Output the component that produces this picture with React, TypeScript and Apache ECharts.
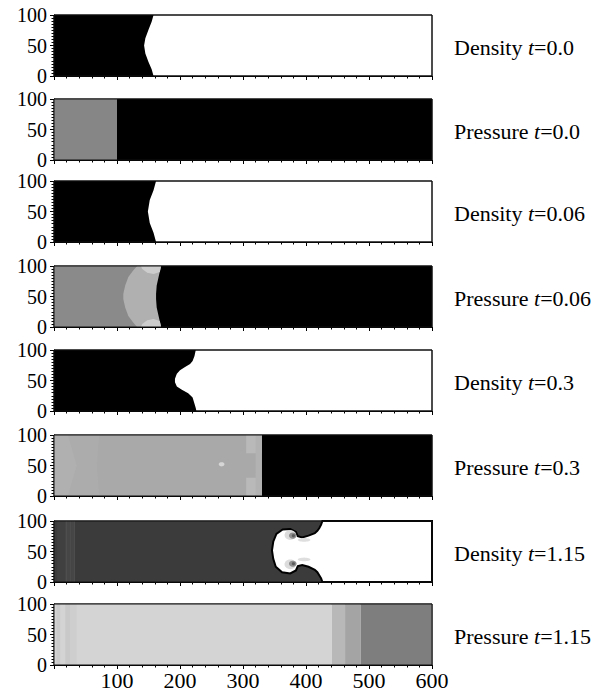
import React, { useEffect, useRef } from "react";
import * as echarts from "echarts";

// ---------------- data ----------------
const variables = ["Density", "Pressure", "Density", "Pressure", "Density", "Pressure", "Density", "Pressure"];
const times = ["0.0", "0.0", "0.06", "0.06", "0.3", "0.3", "1.15", "1.15"];
const xTicks = [0, 100, 200, 300, 400, 500, 600];
const yTicks = [0, 50, 100];

// Density t=0.0 : interface between heavy (black) and light (white) gas, [x, y]
const density00Interface = [[158, 100], [155, 89], [150, 76], [145, 62], [143, 50], [145, 37], [150, 23], [155, 11], [158, 0]];
// Pressure t=0.0 : pressure jump location
const pressure00Jump = [100];
// Density t=0.06
const density006Interface = [[162, 100], [158, 85], [152, 69], [149, 50], [152, 31], [158, 15], [162, 0]];
// Pressure t=0.06 : shock front and inner wave
const pressure006Front = [[170, 100], [166, 82], [163, 68], [162, 54], [162, 46], [163, 32], [166, 18], [170, 0]];
const pressure006Inner = [[132, 100], [126, 93], [118, 82], [113, 68], [110, 54], [110, 46], [113, 32], [118, 18], [126, 7], [132, 0]];
const pressure006TopPatch = [[138, 100], [170, 100], [168, 90], [158, 87], [148, 89], [140, 95]];
const pressure006BottomPatch = [[138, 0], [170, 0], [168, 10], [158, 13], [148, 11], [140, 5]];
// Density t=0.3
const density03Interface = [[225, 100], [223, 90], [220, 82], [216, 77], [208, 72], [200, 67], [195, 61], [192, 53], [192, 47], [195, 40], [203, 35], [213, 29], [220, 22], [223, 12], [225, 5], [226, 0]];
// Pressure t=0.3
const pressure03Front = [330];
const pressure03LeftWave = [[22, 100], [36, 50], [22, 0]];
const pressure03SecondWave = [[72, 100], [68, 50], [72, 0]];
const pressure03StreakX = [305, 320, 330];
const pressure03StreakY = [0, 30, 70, 100];
const pressure03Spot = [266, 52];
// Density t=1.15 : mushroom interface
const density115Interface = [[426, 100], [424, 94], [421, 88], [418, 84], [414, 80], [404, 76], [394, 73], [387, 75], [384, 82], [375, 87], [363, 86], [353, 79], [348, 66], [346, 52], [348, 38], [352, 25], [362, 16], [375, 14], [384, 19], [387, 26], [394, 28], [404, 25], [414, 20], [418, 16], [421, 11], [424, 6], [426, 0]];
const density115Vortices = [[375, 77], [375, 29]];
const density115LeftStripes = [5, 17, 19, 26, 33];
// Pressure t=1.15 : band edges
const pressure115Edges = [0, 36, 441, 462, 487, 600];
const pressure115LeftStripes = [4, 10, 18, 26, 36];

// ---------------- layout / style ----------------
const PANEL_TOPS = [15, 99, 181, 266, 350, 435, 521, 604];
const PANEL_H = 61;
const GRID_LEFT = 54;
const GRID_W = 378;
const FONT = "Liberation Serif";

type Region =
  | { kind: "poly"; pts: number[][]; fill: string; stroke?: string; lw?: number }
  | { kind: "ellipse"; c: number[]; r: number[]; fill: string }
  | { kind: "frame" };

const band = (x0: number, x1: number, y0 = 0, y1 = 100) => [[x0, y0], [x1, y0], [x1, y1], [x0, y1]];
const leftOf = (iface: number[][]) => [[0, 100], ...iface, [0, 0]];
const rightOf = (iface: number[][]) => [[600, 100], ...iface, [600, 0]];
const poly = (pts: number[][], fill: string, stroke?: string, lw?: number): Region => ({ kind: "poly", pts, fill, stroke, lw });
const shift = (c: number[], dx: number, dy: number) => [c[0] + dx, c[1] + dy];

const panels: Region[][] = [
  [poly(leftOf(density00Interface), "#000")],
  [poly(band(0, 600), "#000"), poly(band(0, pressure00Jump[0]), "#868686")],
  [poly(leftOf(density006Interface), "#000")],
  [
    poly(band(0, 600), "#000"),
    poly(leftOf(pressure006Front), "#b0b0b0"),
    poly(leftOf(pressure006Inner), "#8a8a8a"),
    poly(pressure006TopPatch, "#cdcdcd"),
    poly(pressure006BottomPatch, "#cdcdcd"),
  ],
  [poly(leftOf(density03Interface), "#000")],
  [
    poly(band(0, 600), "#000"),
    poly(band(0, pressure03Front[0]), "#a9a9a9"),
    poly(leftOf(pressure03SecondWave), "#acacac"),
    poly(leftOf(pressure03LeftWave), "#b0b0b0"),
    poly(band(pressure03StreakX[0], pressure03StreakX[2], pressure03StreakY[2], pressure03StreakY[3]), "#b9b9b9"),
    poly(band(pressure03StreakX[0], pressure03StreakX[2], pressure03StreakY[0], pressure03StreakY[1]), "#b9b9b9"),
    poly(band(pressure03StreakX[1], pressure03StreakX[2]), "#b2b2b2"),
    { kind: "ellipse", c: pressure03Spot, r: [4.5, 3.5], fill: "#d6d6d6" },
  ],
  [
    poly(band(0, 600), "#3b3b3b"),
    poly(band(density115LeftStripes[0], density115LeftStripes[1]), "#404040"),
    poly(band(density115LeftStripes[1], density115LeftStripes[4]), "#464646"),
    poly(band(density115LeftStripes[2], density115LeftStripes[2] + 1), "#555555"),
    poly(band(density115LeftStripes[3], density115LeftStripes[3] + 1), "#525252"),
    poly(band(density115LeftStripes[4] - 1, density115LeftStripes[4]), "#555555"),
    poly(rightOf(density115Interface), "#fff", "#000", 2),
    { kind: "ellipse", c: density115Vortices[0], r: [9, 8], fill: "#dcdcdc" },
    { kind: "ellipse", c: density115Vortices[1], r: [9, 8], fill: "#dcdcdc" },
    { kind: "ellipse", c: shift(density115Vortices[0], 4, -1), r: [6, 5], fill: "#8e8e8e" },
    { kind: "ellipse", c: shift(density115Vortices[1], 4, 1), r: [6, 5], fill: "#8e8e8e" },
    { kind: "ellipse", c: shift(density115Vortices[0], 5, -1), r: [2.5, 2.5], fill: "#5a5a5a" },
    { kind: "ellipse", c: shift(density115Vortices[1], 5, 1), r: [2.5, 2.5], fill: "#5a5a5a" },
    { kind: "ellipse", c: shift(density115Vortices[0], 22, -8), r: [10, 3], fill: "#dedede" },
    { kind: "ellipse", c: shift(density115Vortices[1], 22, 8), r: [10, 3], fill: "#dedede" },
  ],
  [
    poly(band(pressure115Edges[0], pressure115Edges[2]), "#d4d4d4"),
    poly(band(pressure115Edges[2], pressure115Edges[3]), "#b8b8b8"),
    poly(band(pressure115Edges[3], pressure115Edges[4]), "#a4a4a4"),
    poly(band(pressure115Edges[4], pressure115Edges[5]), "#7e7e7e"),
    poly(band(pressure115LeftStripes[0], pressure115LeftStripes[1]), "#cbcbcb"),
    poly(band(pressure115LeftStripes[2], pressure115LeftStripes[3]), "#c9c9c9"),
    poly(band(pressure115LeftStripes[3], pressure115LeftStripes[4]), "#cecece"),
  ],
];

export default function App() {
  const ref = useRef<HTMLDivElement>(null);
  useEffect(() => {
    if (!ref.current) return;
    const chart = echarts.init(ref.current, undefined, { renderer: "svg" });
    const n = panels.length;
    const grid = PANEL_TOPS.map((top) => ({
      left: GRID_LEFT,
      top,
      width: GRID_W,
      height: PANEL_H,
      show: true,
      backgroundColor: "#fff",
      borderColor: "#111",
      borderWidth: 1,
      containLabel: false,
    }));
    const xAxis = PANEL_TOPS.map((_, i) => ({
      type: "value",
      gridIndex: i,
      min: xTicks[0],
      max: xTicks[xTicks.length - 1],
      interval: 100,
      axisLine: { show: true, lineStyle: { color: "#000", width: 1 } },
      axisTick: { show: true, inside: false, length: 4, lineStyle: { color: "#000" } },
      minorTick: { show: true, splitNumber: 5, length: 2.5, lineStyle: { color: "#000" } },
      splitLine: { show: false },
      axisLabel: {
        show: i === n - 1,
        margin: 4,
        fontFamily: FONT,
        fontSize: 22,
        color: "#000",
        formatter: (v: number) => (v === 0 ? "" : String(v)),
      },
    }));
    const yAxis = PANEL_TOPS.map((_, i) => ({
      type: "value",
      gridIndex: i,
      min: yTicks[0],
      max: yTicks[yTicks.length - 1],
      interval: 50,
      axisLine: { show: true, lineStyle: { color: "#000", width: 1 } },
      axisTick: { show: true, inside: false, length: 4, lineStyle: { color: "#000" } },
      minorTick: { show: true, splitNumber: 10, length: 2.5, lineStyle: { color: "#000" } },
      splitLine: { show: false },
      axisLabel: { show: true, margin: 7, fontFamily: FONT, fontSize: 20, color: "#000" },
    }));
    const series = panels.map((regions, i) => {
      const items: Region[] = [...regions, { kind: "frame" }];
      return {
        type: "custom",
        coordinateSystem: "cartesian2d",
        xAxisIndex: i,
        yAxisIndex: i,
        clip: false,
        silent: true,
        data: items.map((_, k) => [k, 0]),
        renderItem: (params: any, api: any) => {
          const r = items[params.dataIndex];
          if (r.kind === "frame") {
            return {
              type: "polygon",
              shape: { points: band(0, 600).map((p) => api.coord(p)) },
              style: { fill: "none", stroke: "#111", lineWidth: 1 },
            };
          }
          if (r.kind === "ellipse") {
            const c = api.coord(r.c);
            const s = api.size([r.r[0], r.r[1]]);
            const pts: number[][] = [];
            for (let a = 0; a < 32; a++) {
              const t = (a / 32) * Math.PI * 2;
              pts.push([c[0] + s[0] * Math.cos(t), c[1] + s[1] * Math.sin(t)]);
            }
            return { type: "polygon", shape: { points: pts }, style: { fill: r.fill } };
          }
          return {
            type: "polygon",
            shape: { points: r.pts.map((p) => api.coord(p)) },
            style: { fill: r.fill, stroke: r.stroke || "none", lineWidth: r.lw || 0 },
          };
        },
      };
    });
    const graphic = PANEL_TOPS.map((top, i) => ({
      type: "text",
      x: 454,
      y: top + PANEL_H / 2 + 2,
      style: {
        text: `{n|${variables[i]} }{i|t}{n|=${times[i]}}`,
        fontFamily: FONT,
        fontSize: 22,
        verticalAlign: "middle",
        align: "left",
        fill: "#000",
        rich: {
          n: { fontFamily: FONT, fontSize: 22, fill: "#000" },
          i: { fontFamily: FONT, fontSize: 22, fontStyle: "italic", fill: "#000" },
        },
      },
    }));
    chart.setOption({
      animation: false,
      backgroundColor: "#fff",
      grid,
      xAxis,
      yAxis,
      series,
      graphic,
    } as any);
    return () => chart.dispose();
  }, []);
  return (
    <div
      ref={ref}
      style={{ position: "absolute", left: 0, top: 0, width: 600, height: 691 }}
    />
  );
}
